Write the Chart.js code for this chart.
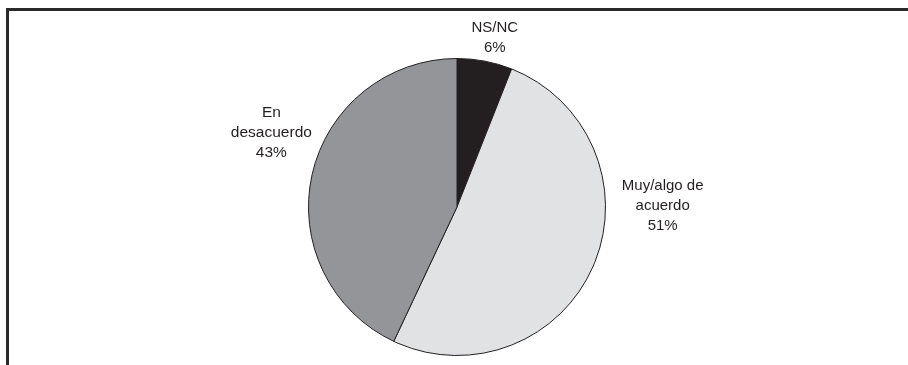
<!DOCTYPE html>
<html>
<head>
<meta charset="utf-8">
<script src="https://cdn.jsdelivr.net/npm/chart.js@4.4.1/dist/chart.umd.min.js"></script>
<style>
  html, body { margin: 0; padding: 0; background: #fff; }
  #wrap { position: relative; width: 908px; height: 365px; overflow: hidden; }
  #frame {
    position: absolute; left: 6px; top: 8px; right: -10px; bottom: -10px;
    border-top: 3px solid #2a2a2a; border-left: 3px solid #2a2a2a;
  }
  canvas { position: absolute; left: 0; top: 0; }
</style>
</head>
<body>
<div id="wrap">
  <div id="frame"></div>
  <canvas id="pie" width="908" height="365"></canvas>
</div>
<script>
// Categorías y porcentajes
const categorias = ['NS/NC', 'Muy/algo de acuerdo', 'En desacuerdo'];
const valores = [6, 51, 43];
const colores = ['#231f20', '#e1e2e4', '#939598'];

// Texto de cada etiqueta (líneas)
const etiquetas = [
  ['NS/NC', '6%'],
  ['Muy/algo de', 'acuerdo', '51%'],
  ['En', 'desacuerdo', '43%']
];
// posición de la etiqueta respecto al centro, en radios
const posEtiquetas = [[0.255, -1.138], [1.385, -0.01], [-1.25, -0.50]];
const estiloEtiquetas = [
  { size: 15, alto: 19.5 },
  { size: 15, alto: 20 },
  { size: 15.5, alto: 20 }
];

const etiquetasPlugin = {
  id: 'etiquetas',
  afterDraw(chart) {
    const ctx = chart.ctx;
    const arcs = chart.getDatasetMeta(0).data;
    ctx.save();
    ctx.fillStyle = '#231f20';
    ctx.textAlign = 'center';
    ctx.textBaseline = 'middle';
    arcs.forEach((arc, i) => {
      const r = arc.outerRadius;
      const cx = arc.x + posEtiquetas[i][0] * r;
      const cy = arc.y + posEtiquetas[i][1] * r;
      const est = estiloEtiquetas[i];
      const lineas = etiquetas[i];
      ctx.font = est.size + 'px "Liberation Sans", Arial, sans-serif';
      lineas.forEach((t, k) => {
        const y = cy + (k - (lineas.length - 1) / 2) * est.alto;
        ctx.fillText(t, cx, y);
      });
    });
    ctx.restore();
  }
};

const ctx = document.getElementById('pie').getContext('2d');
new Chart(ctx, {
  type: 'pie',
  data: {
    labels: categorias,
    datasets: [{
      data: valores,
      backgroundColor: colores,
      borderColor: '#231f20',
      borderWidth: 1
    }]
  },
  options: {
    responsive: false,
    animation: false,
    layout: { padding: { top: 58, bottom: 9, left: 6, right: 0 } },
    plugins: {
      legend: { display: false },
      tooltip: { enabled: false }
    }
  },
  plugins: [etiquetasPlugin]
});
</script>
</body>
</html>
